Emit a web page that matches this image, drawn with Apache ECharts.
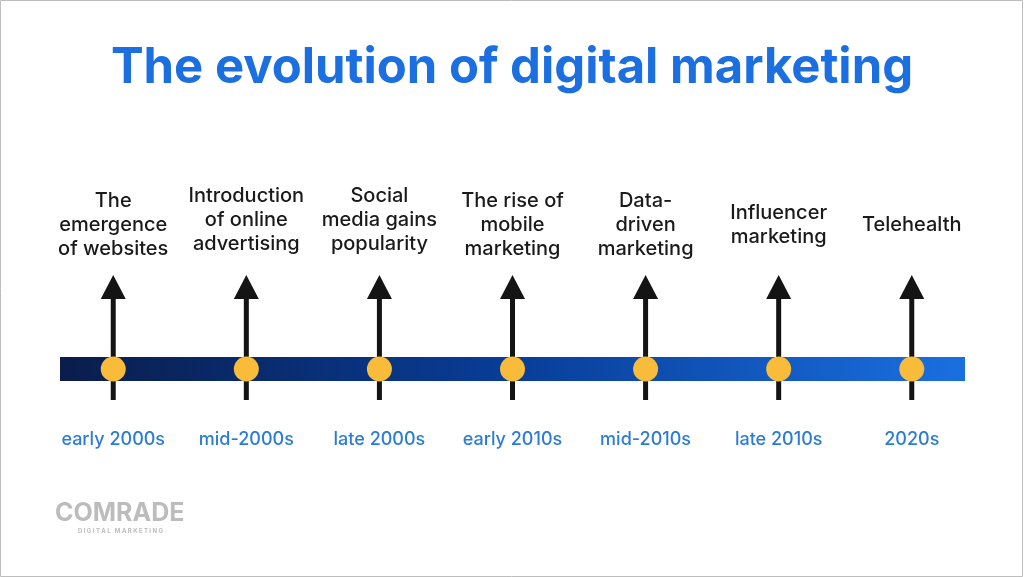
<!DOCTYPE html>
<html><head><meta charset="utf-8">
<script src="https://cdn.jsdelivr.net/npm/echarts@6/dist/echarts.min.js"></script>
<style>html,body{margin:0;padding:0;background:#fff}#c{width:1024px;height:577px}</style>
</head><body><div id="c"></div>
<script>
// ---- data ----
const periods = ['early 2000s','mid-2000s','late 2000s','early 2010s','mid-2010s','late 2010s','2020s'];
const events = ['The\nemergence\nof websites','Introduction\nof online\nadvertising','Social\nmedia gains\npopularity','The rise of\nmobile\nmarketing','Data-\ndriven\nmarketing','Influencer\nmarketing','Telehealth'];
const steps = [0,1,2,3,4,5,6];
// ---- style ----
const labelShift = [0,-5,-5,0,0,0,0];
const FONT = 'Inter';

const chart = echarts.init(document.getElementById('c'), null, {renderer:'canvas'});
const itemData = steps.map((s,i)=>[s,0,i]);

chart.setOption({
  backgroundColor:'#fff',
  animation:false,
  title:{
    text:'The evolution of digital marketing',
    left:'center', top:39,
    textStyle:{fontFamily:FONT,fontSize:49,fontWeight:'bold',color:'#1b6fe0'}
  },
  grid:{left:60,right:59,top:357,height:24},
  xAxis:{type:'value',min:-0.4,max:6.4,show:false},
  yAxis:{type:'value',min:-1,max:1,show:false},
  series:[
    {
      type:'custom', z:1, silent:true,
      data:[[0,0]],
      renderItem:(params,api)=>{
        const cs = params.coordSys;
        return {type:'rect', shape:{x:cs.x,y:cs.y,width:cs.width,height:cs.height},
          style:{fill:new echarts.graphic.LinearGradient(0,0,1,0,[
            {offset:0,color:'#0a1d4c'},{offset:0.5,color:'#083d98'},{offset:1,color:'#1a6fe0'}])}};
      }
    },
    {
      type:'custom', z:2, silent:true,
      data:itemData,
      renderItem:(params,api)=>{
        const i = api.value(2);
        const p = api.coord([api.value(0), api.value(1)]);
        return {type:'group', children:[
          {type:'rect', shape:{x:p[0]-2.5,y:p[1]-72,width:5,height:103}, style:{fill:'#141414'}},
          {type:'polygon', shape:{points:[[p[0],p[1]-94],[p[0]-12.5,p[1]-70],[p[0]+12.5,p[1]-70]]}, style:{fill:'#141414'}},
          {type:'text', x:p[0], y:p[1]-144+labelShift[i], style:{text:events[i],fill:'#1a1a1a',font:'500 20px '+FONT,lineHeight:24,align:'center',verticalAlign:'middle'}},
          {type:'text', x:p[0], y:p[1]+71, style:{text:periods[i],fill:'#2b7bd9',font:'500 18px '+FONT,align:'center',verticalAlign:'middle'}}
        ]};
      }
    },
    {
      type:'scatter', z:3, silent:true,
      data:itemData,
      symbol:'circle', symbolSize:25,
      itemStyle:{color:'#f8bb3a',opacity:1}
    }
  ],
  graphic:[
    {type:'rect', shape:{x:0.5,y:0.5,width:1022,height:576}, style:{fill:'none',stroke:'#bdbdbd',lineWidth:1}, silent:true},
    {type:'text', left:55, top:501, style:{text:'COMRADE', fill:'#bcbcbc', font:'bold 25px '+FONT}},
    {type:'text', left:78, top:528, style:{text:'D I G I T A L   M A R K E T I N G', fill:'#bcbcbc', font:'bold 6px '+FONT}}
  ]
});
</script></body></html>
